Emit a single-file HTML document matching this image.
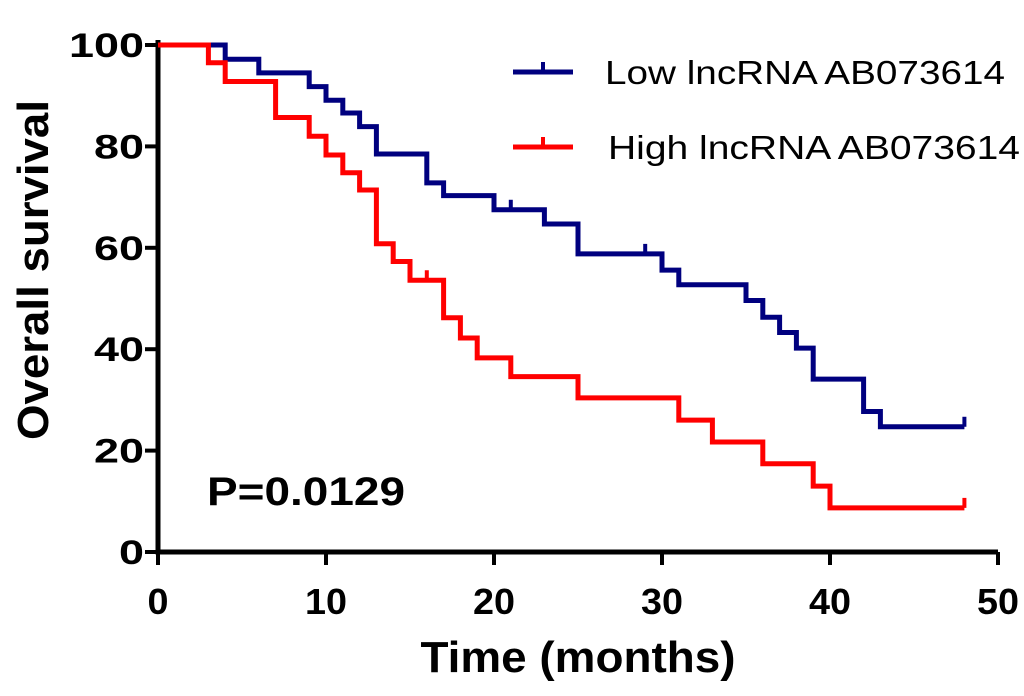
<!DOCTYPE html>
<html><head><meta charset="utf-8"><style>
html,body{margin:0;padding:0;background:#fff;}
svg text{font-family:"Liberation Sans",Arial,sans-serif;font-weight:bold;}
</style></head><body>
<svg id="chart" width="1024" height="691" xmlns="http://www.w3.org/2000/svg"></svg>
<script>
const xTicks=[0,10,20,30,40,50];
const yTicks=[0,20,40,60,80,100];
const lowTimes=[0,4,6,9,10,11,12,13,16,17,20,23,25,30,31,35,36,37,38,39,42,43,48];
const lowValues=[100,97.2,94.5,91.8,89.1,86.6,83.9,78.5,72.8,70.3,67.5,64.7,58.8,55.6,52.7,49.6,46.3,43.3,40.2,34.1,27.7,24.7,24.7];
const lowCensor=[21,29,48];
const highTimes=[0,3,4,7,9,10,11,12,13,14,15,17,18,19,21,25,31,33,36,39,40,48];
const highValues=[100,96.5,92.8,85.7,82,78.3,74.8,71.4,60.8,57.3,53.6,46.2,42.2,38.3,34.6,30.4,26,21.7,17.4,13,8.7,8.7];
const highCensor=[16,48];

const NS="http://www.w3.org/2000/svg";
const svg=document.getElementById('chart');
const X0=158,X1=998,Y0=552,Y1=45;
const sx=t=>X0+(t/50)*(X1-X0);
const sy=v=>Y0-(v/100)*(Y0-Y1);
function mk(tag,attrs){const e=document.createElementNS(NS,tag);for(const k in attrs)e.setAttribute(k,attrs[k]);svg.appendChild(e);return e;}

let ax=mk('path',{d:`M${X0},${Y1-5}V${Y0}H${X1}`,stroke:'#000','stroke-width':5,fill:'none'});


xTicks.forEach(t=>{
  let l=mk('line',{x1:sx(t),x2:sx(t),y1:Y0,y2:Y0+13,stroke:'#000','stroke-width':4});
  
  
  let tx=mk('text',{x:sx(t),y:Y0+62,'text-anchor':'middle','font-size':36,textLength:String(t).length*21,lengthAdjust:'spacingAndGlyphs'});
  tx.textContent=t;
  
  
});
yTicks.forEach(v=>{
  let l=mk('line',{x1:X0-13,x2:X0,y1:sy(v),y2:sy(v),stroke:'#000','stroke-width':4});
  
  
  let tx=mk('text',{x:X0-14,y:sy(v)+12,'text-anchor':'end','font-size':34,textLength:String(v).length*25,lengthAdjust:'spacingAndGlyphs'});
  tx.textContent=v;
  
  
});
function stepPath(ts,vs){let d=`M${sx(ts[0])},${sy(vs[0])}`;for(let i=1;i<ts.length;i++){d+=`H${sx(ts[i])}V${sy(vs[i])}`;}return d;}
function valAt(ts,vs,t){let v=vs[0];for(let i=0;i<ts.length;i++){if(ts[i]<=t)v=vs[i];}return v;}
function series(ts,vs,cs,color,name){
  let p=mk('path',{d:stepPath(ts,vs),stroke:color,'stroke-width':5,fill:'none'});
  
  
  cs.forEach(t=>{
    const v=valAt(ts,vs,t);
    let c=mk('line',{x1:sx(t),x2:sx(t),y1:sy(v),y2:sy(v)-10,stroke:color,'stroke-width':4});
    
    
  });
}
series(lowTimes,lowValues,lowCensor,'#00007f','low-lncrna');
series(highTimes,highValues,highCensor,'#ff0000','high-lncrna');

function legend(y,color,label,name,x,w){
  let l=mk('line',{x1:513,x2:573,y1:y,y2:y,stroke:color,'stroke-width':5});
  
  
  let t=mk('line',{x1:543,x2:543,y1:y,y2:y-10,stroke:color,'stroke-width':4});
  
  
  let tx=mk('text',{x:x,y:y+12,'font-size':33,style:'font-weight:normal',textLength:w,lengthAdjust:'spacingAndGlyphs'});
  tx.textContent=label;
  
  
}
legend(72,'#00007f','Low lncRNA AB073614','low',605,400);
legend(147,'#ff0000','High lncRNA AB073614','high',608,412);

let p=mk('text',{x:207,y:505,'font-size':40,textLength:198,lengthAdjust:'spacingAndGlyphs'});
p.textContent='P=0.0129';


let xt=mk('text',{x:578,y:672,'text-anchor':'middle','font-size':44,textLength:315,lengthAdjust:'spacingAndGlyphs'});
xt.textContent='Time (months)';


let yt=mk('text',{x:0,y:0,'text-anchor':'middle','font-size':44,textLength:340,lengthAdjust:'spacingAndGlyphs',transform:'translate(48,270) rotate(-90)'});
yt.textContent='Overall survival';


</script>
</body></html>
